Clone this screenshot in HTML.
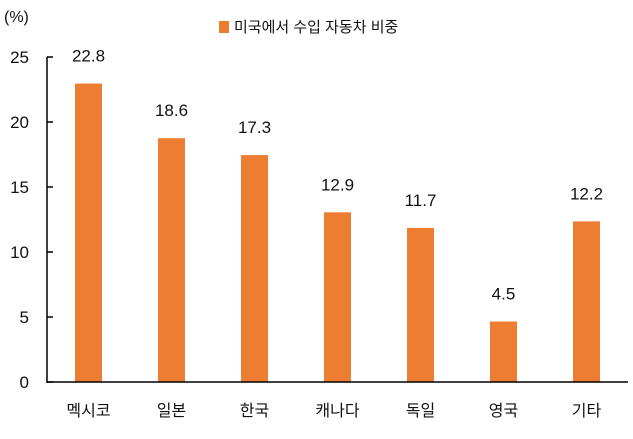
<!DOCTYPE html>
<html><head><meta charset="utf-8"><style>
body{margin:0;background:#fff;}
svg text{font-family:"Liberation Sans","Noto Sans CJK KR",sans-serif;fill:#111;}
</style></head><body>
<svg id="chart" width="633" height="434" xmlns="http://www.w3.org/2000/svg">
<text x="4" y="22" font-size="16">(%)</text>
<rect x="219" y="21" width="10" height="12" fill="#ED7D31"/>
<text x="234" y="32" font-size="15">미국에서 수입 자동차 비중</text>
<g id="plot"></g>
</svg>
<script>
const categories=["멕시코","일본","한국","캐나다","독일","영국","기타"];
const values=[22.8,18.6,17.3,12.9,11.7,4.5,12.2];
const valueLabels=["22.8","18.6","17.3","12.9","11.7","4.5","12.2"];
const yTicks=[0,5,10,15,20,25];
const x0=47,band=83,y0=382,yMax=25,plotH=325,barW=27;
const y=v=>y0-v/yMax*plotH;
const xc=i=>x0+band*(i+0.5);
const g=document.getElementById('plot');
const NS="http://www.w3.org/2000/svg";
function mk(t,a){const e=document.createElementNS(NS,t);for(const k in a)e.setAttribute(k,a[k]);g.appendChild(e);return e;}
yTicks.forEach(t=>{
 const l=mk('line',{x1:x0,x2:x0+6,y1:y(t),y2:y(t),stroke:'#000','stroke-width':1.5});
 
 
 const tx=mk('text',{x:29,y:y(t)+6,'font-size':17,'text-anchor':'end'});
 tx.textContent=t;
 
 
});
values.forEach((v,i)=>{
 const r=mk('rect',{x:xc(i)-barW/2,y:y(v)-2,width:barW,height:y0-y(v)+2,fill:'#ED7D31'});
 
 
 const t=mk('text',{x:xc(i),y:y(v)-24,'font-size':17,'text-anchor':'middle'});
 t.textContent=valueLabels[i];
 
 
 const c=mk('text',{x:xc(i),y:416,'font-size':16,'text-anchor':'middle'});
 c.textContent=categories[i];
 
 
});
const ya=mk('line',{x1:x0,x2:x0,y1:y(yMax),y2:y0+1,stroke:'#000','stroke-width':1.5});


const xa=mk('line',{x1:x0,x2:x0+band*7,y1:y0,y2:y0,stroke:'#000','stroke-width':1.5});


</script>
</body></html>
